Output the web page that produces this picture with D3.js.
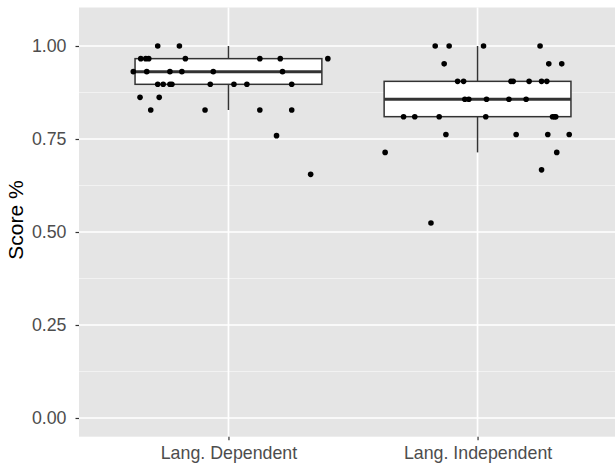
<!DOCTYPE html>
<html>
<head>
<meta charset="utf-8">
<script src="https://cdn.jsdelivr.net/npm/d3@7"></script>
<style>
  body { margin: 0; background: #fff; }
  svg { display: block; font-family: "Liberation Sans", Arial, sans-serif; }
</style>
</head>
<body>
<div id="chart"></div>
<script>
// data
const categories = ["Lang. Dependent", "Lang. Independent"];
const yTicks = [0, 0.25, 0.5, 0.75, 1];
const yMinor = [0.125, 0.375, 0.625, 0.875];

// box stats: [whisker low, q1, median, q3, whisker high]
const depBox = [0.828, 0.897, 0.931, 0.966, 1.0];
const indBox = [0.714, 0.810, 0.857, 0.905, 1.0];

// jittered scores (score, horizontal jitter in category units)
const depScores = [1.0, 1.0,
  0.966, 0.966, 0.966, 0.966, 0.966, 0.966, 0.966,
  0.931, 0.931, 0.931, 0.931, 0.931, 0.931,
  0.897, 0.897, 0.897, 0.897, 0.897, 0.897, 0.897, 0.897,
  0.862, 0.862,
  0.828, 0.828, 0.828, 0.828,
  0.759, 0.655];
const depJitter = [-0.284, -0.197,
  -0.352, -0.332, -0.320, -0.173, 0.126, 0.208, 0.399,
  -0.382, -0.328, -0.235, -0.187, -0.061, 0.217,
  -0.284, -0.262, -0.235, -0.227, -0.073, 0.022, 0.074, 0.254,
  -0.355, -0.278,
  -0.312, -0.094, 0.126, 0.254,
  0.193, 0.330];

const indScores = [1.0, 1.0, 1.0, 1.0,
  0.952, 0.952, 0.952,
  0.905, 0.905, 0.905, 0.905, 0.905, 0.905, 0.905,
  0.857, 0.857, 0.857, 0.857, 0.857,
  0.810, 0.810, 0.810, 0.810, 0.810, 0.810, 0.810,
  0.762, 0.762, 0.762, 0.762,
  0.714, 0.714, 0.667, 0.524];
const indJitter = [-0.170, -0.114, 0.024, 0.251,
  -0.134, 0.286, 0.338,
  -0.080, -0.056, 0.134, 0.143, 0.207, 0.257, 0.278,
  -0.051, -0.035, 0.036, 0.126, 0.195,
  -0.297, -0.252, -0.154, 0.033, 0.301, 0.309, 0.314,
  -0.127, 0.155, 0.282, 0.368,
  -0.371, 0.318, 0.257, -0.187];

// layout
const margin = {top: 7.5, left: 79};
const width = 548;
const height = 429.2;

const svg = d3.select("#chart")
  .append("svg")
  .attr("width", 615)
  .attr("height", 465);

const g = svg.append("g")
  .attr("transform", `translate(${margin.left},${margin.top})`);

const x = d3.scalePoint()
  .domain(categories)
  .range([0, width])
  .padding(0.6);

const y = d3.scaleLinear()
  .domain([-0.0503, 1.1035])
  .range([height, 0]);

const step = x.step();

// panel
g.append("rect")
  .attr("width", width)
  .attr("height", height)
  .attr("fill", "#e5e5e5");

g.selectAll(".minor")
  .data(yMinor)
  .enter().append("line")
  .attr("x1", 0).attr("x2", width)
  .attr("y1", d => y(d)).attr("y2", d => y(d))
  .attr("stroke", "#f4f4f4")
  .attr("stroke-width", 0.9);

g.selectAll(".major-y")
  .data(yTicks)
  .enter().append("line")
  .attr("x1", 0).attr("x2", width)
  .attr("y1", d => y(d)).attr("y2", d => y(d))
  .attr("stroke", "#fff")
  .attr("stroke-width", 1.7);

g.selectAll(".major-x")
  .data(categories)
  .enter().append("line")
  .attr("x1", d => x(d)).attr("x2", d => x(d))
  .attr("y1", 0).attr("y2", height)
  .attr("stroke", "#fff")
  .attr("stroke-width", 1.7);

// boxplots
const boxes = [
  {cat: categories[0], s: depBox},
  {cat: categories[1], s: indBox}
];
const bw = step * 0.75;
const boxColor = "#333";

boxes.forEach(b => {
  const cx = x(b.cat);
  const [lo, q1, med, q3, hi] = b.s;
  g.append("line")
    .attr("x1", cx).attr("x2", cx)
    .attr("y1", y(hi)).attr("y2", y(q3))
    .attr("stroke", boxColor).attr("stroke-width", 1.5);
  g.append("line")
    .attr("x1", cx).attr("x2", cx)
    .attr("y1", y(q1)).attr("y2", y(lo))
    .attr("stroke", boxColor).attr("stroke-width", 1.5);
  g.append("rect")
    .attr("x", cx - bw / 2)
    .attr("y", y(q3))
    .attr("width", bw)
    .attr("height", y(q1) - y(q3))
    .attr("fill", "#fff")
    .attr("stroke", boxColor)
    .attr("stroke-width", 1.5);
  g.append("line")
    .attr("x1", cx - bw / 2).attr("x2", cx + bw / 2)
    .attr("y1", y(med)).attr("y2", y(med))
    .attr("stroke", boxColor).attr("stroke-width", 3);
});

// jittered points
const points = [];
depScores.forEach((v, i) => points.push({cat: categories[0], v: v, j: depJitter[i]}));
indScores.forEach((v, i) => points.push({cat: categories[1], v: v, j: indJitter[i]}));

g.selectAll(".pt")
  .data(points)
  .enter().append("circle")
  .attr("class", "pt")
  .attr("cx", d => x(d.cat) + d.j * step)
  .attr("cy", d => y(d.v))
  .attr("r", 2.8)
  .attr("fill", "#000");

// axes
const yAxis = d3.axisLeft(y)
  .tickValues(yTicks)
  .tickFormat(d3.format(".2f"))
  .tickSize(3.5)
  .tickPadding(9);

const yG = g.append("g").call(yAxis);
yG.select(".domain").remove();
yG.selectAll("line").attr("stroke", "#333").attr("stroke-width", 1.2);
yG.selectAll("text")
  .attr("fill", "#4d4d4d")
  .style("font-size", "17.8px");

const xAxis = d3.axisBottom(x)
  .tickSize(3.5)
  .tickPadding(6.5);

const xG = g.append("g")
  .attr("transform", `translate(0,${height})`)
  .call(xAxis);
xG.select(".domain").remove();
xG.selectAll("line").attr("stroke", "#333").attr("stroke-width", 1.2);
xG.selectAll("text")
  .attr("fill", "#4d4d4d")
  .style("font-size", "17.8px");

// axis title
svg.append("text")
  .attr("transform", "translate(23,220) rotate(-90)")
  .attr("text-anchor", "middle")
  .style("font-size", "21px")
  .attr("fill", "#000")
  .text("Score %");
</script>
</body>
</html>
